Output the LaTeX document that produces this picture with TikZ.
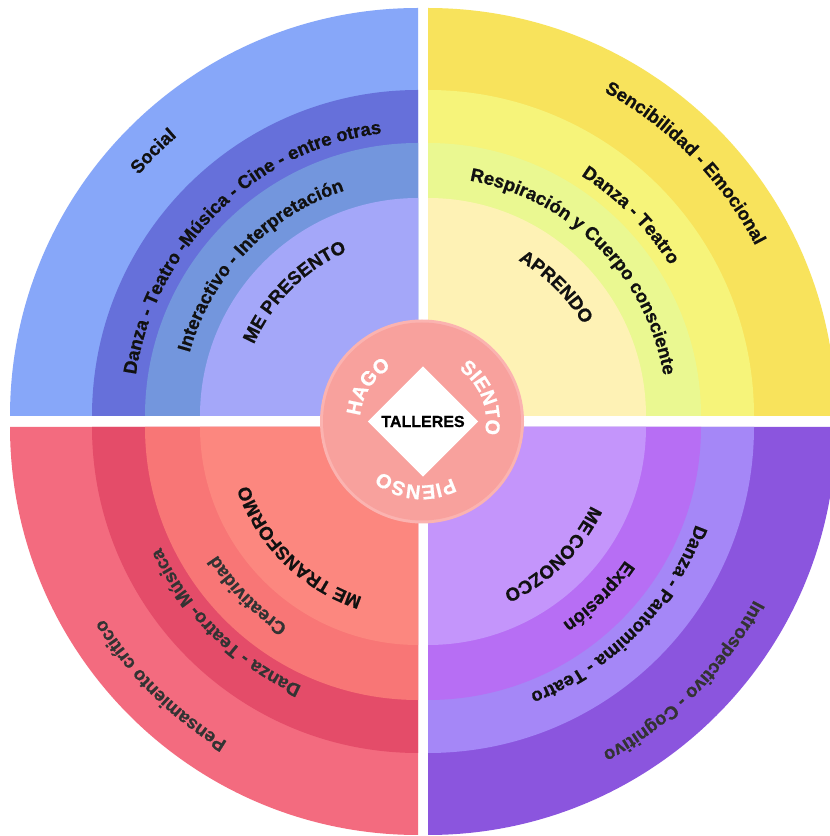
\documentclass[tikz,border=0pt]{standalone}
\usepackage{fontspec}
\setmainfont{Liberation Sans}
\newfontfamily\heavyfont[FakeBold=0.8]{Liberation Sans Bold}
\usetikzlibrary{decorations.text}
\definecolor{tlA}{HTML}{87A7F9}
\definecolor{tlB}{HTML}{6670DA}
\definecolor{tlC}{HTML}{7396DD}
\definecolor{tlD}{HTML}{A4A7F9}
\definecolor{trA}{HTML}{F8E35C}
\definecolor{trB}{HTML}{F6F47A}
\definecolor{trC}{HTML}{EAF891}
\definecolor{trD}{HTML}{FEF2B5}
\definecolor{blA}{HTML}{F36B7F}
\definecolor{blB}{HTML}{E44C69}
\definecolor{blC}{HTML}{F87676}
\definecolor{blD}{HTML}{FC877F}
\definecolor{brA}{HTML}{8B55DE}
\definecolor{brB}{HTML}{A587F7}
\definecolor{brC}{HTML}{B76EF4}
\definecolor{brD}{HTML}{C495FB}
\definecolor{hub}{HTML}{F8A19D}
\definecolor{hubrim}{HTML}{FBB3B0}
\definecolor{ink}{HTML}{111111}
\definecolor{inkgray}{HTML}{333333}
\newcommand\qfont{\heavyfont\fontsize{18.5}{22}\selectfont}
\newcommand\hubfont{\heavyfont\fontsize{20}{24}\selectfont}
% #1 centre, #2 mid angle, #3 baseline radius, #4 half span, #5 font, #6 colour, #7 text
\newcommand\arctxt[7]{%
  \path[decorate,decoration={text along path,text align=center,text color=#6,text={|#5|#7}}]
    (#1) ++({#2+#4}:#3) arc[start angle={#2+#4},end angle={#2-#4},radius=#3];}
% #1 centre, #2 start angle, #3..#6 colours
\newcommand\quadrant[6]{%
  \fill[#3] (#1) -- ++(#2:408) arc[start angle=#2,end angle=#2+90,radius=408] -- cycle;
  \fill[#4] (#1) -- ++(#2:326) arc[start angle=#2,end angle=#2+90,radius=326] -- cycle;
  \fill[#5] (#1) -- ++(#2:273) arc[start angle=#2,end angle=#2+90,radius=273] -- cycle;
  \fill[#6] (#1) -- ++(#2:218) arc[start angle=#2,end angle=#2+90,radius=218] -- cycle;}
\begin{document}
\begin{tikzpicture}[x=1pt,y=1pt]
\useasboundingbox (0,0) rectangle (830,836);
\clip (0,0) rectangle (830,836);
\fill[white] (0,0) rectangle (830,836);
\coordinate (tl) at (418,420);
\coordinate (tr) at (428,420);
\coordinate (bl) at (418,409);
\coordinate (br) at (428,409);
\coordinate (hc) at (422,414.5);
\quadrant{tl}{90}{tlA}{tlB}{tlC}{tlD}
\quadrant{tr}{0}{trA}{trB}{trC}{trD}
\quadrant{bl}{180}{blA}{blB}{blC}{blD}
\quadrant{br}{270}{brA}{brB}{brC}{brD}
% top-left texts
\arctxt{tl}{135}{369}{40}{\qfont}{ink}{Social}
\arctxt{tl}{134.5}{285}{60}{\qfont}{ink}{Danza - Teatro -Música - Cine - entre otras}
\arctxt{tl}{136.3}{237}{60}{\qfont}{ink}{Interactivo - Interpretación}
\arctxt{tl}{134.9}{179}{60}{\qfont}{ink}{ME PRESENTO}
% top-right texts
\arctxt{tr}{44.5}{369}{40}{\qfont}{ink}{Sencibilidad - Emocional}
\arctxt{tr}{44.7}{285}{40}{\qfont}{ink}{Danza - Teatro}
\arctxt{tr}{44.85}{239}{60}{\qfont}{ink}{Respiración y Cuerpo consciente}
\arctxt{tr}{45.2}{180}{40}{\qfont}{ink}{APRENDO}
% bottom-left texts
\arctxt{bl}{225.4}{179}{40}{\qfont}{ink}{ME TRANSFORMO}
\arctxt{bl}{224.65}{238}{40}{\qfont}{inkgray}{Creatividad}
\arctxt{bl}{225.5}{284}{40}{\qfont}{inkgray}{Danza - Teatro- Música}
\arctxt{bl}{225.1}{368}{40}{\qfont}{inkgray}{Pensamiento crítico}
% bottom-right texts
\arctxt{br}{-30.1}{181}{20}{\qfont}{ink}{ME}
\arctxt{br}{-50.4}{181}{30}{\qfont}{ink}{CONOZCO}
\arctxt{br}{-44.8}{238}{40}{\qfont}{ink}{Expresión}
\arctxt{br}{-44.5}{285}{40}{\qfont}{ink}{Danza - Pantomima - Teatro}
\arctxt{br}{-44.85}{369}{40}{\qfont}{inkgray}{Introspectivo - Cognitivo}
% hub
\fill[hubrim] (hc) circle[radius=102];
\fill[hub] (hc) circle[radius=99];
\node[fill=white,minimum width=78pt,minimum height=78pt,inner sep=0pt,rotate=45] (dia) at (423,414.5) {};
\node[font=\heavyfont\fontsize{16}{19}\selectfont,text=black] (tal) at (dia.center) {TALLERES};
\arctxt{hc}{147.3}{62}{60}{\hubfont}{white}{HAGO}
\arctxt{hc}{21.7}{64}{60}{\hubfont}{white}{SIENTO}
\arctxt{hc}{-95.65}{64}{60}{\hubfont}{white}{PIENSO}
\end{tikzpicture}
\end{document}
